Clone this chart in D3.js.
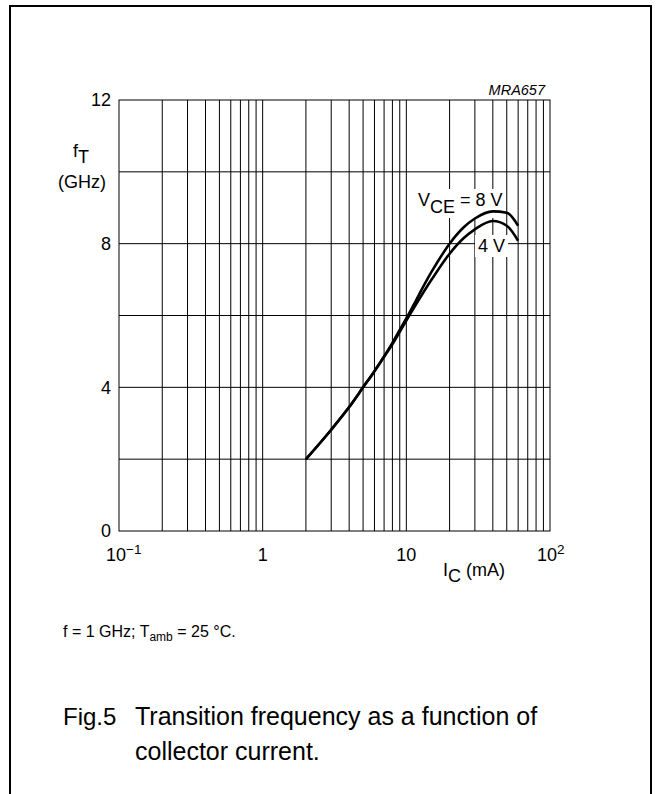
<!DOCTYPE html>
<html>
<head>
<meta charset="utf-8">
<script src="https://cdn.jsdelivr.net/npm/d3@7"></script>
<style>
  body { margin: 0; background: #fff; }
  svg { display: block; font-family: "Liberation Sans", Arial, sans-serif; }
</style>
</head>
<body>
<div id="chart"></div>
<script>
// fT versus IC chart (Fig.5)
// ---------------------------------------------------------------

// data
var currentMA = [2, 3, 4, 5, 6, 7, 8, 10, 15, 20, 25, 30, 40, 50, 60];
var ft8V = [2.0, 2.82, 3.45, 4.0, 4.45, 4.86, 5.24, 5.92, 7.22, 8.0, 8.45, 8.7, 8.9, 8.86, 8.5];
var ft4V = [2.0, 2.82, 3.45, 4.0, 4.45, 4.85, 5.2, 5.86, 7.0, 7.72, 8.15, 8.4, 8.63, 8.5, 8.08];

// axis ticks
var yTicks = [0, 4, 8, 12];
var yGrid = [2, 4, 6, 8, 10];
var xTicks = [0.1, 1, 10, 100];
var xTickBase = ["10", "1", "10", "10"];
var xTickSup = ["\u22121", "", "", "2"];

// svg container dimensions
var width = 656;
var height = 794;

// plot area
var plot = { left: 119, right: 550, top: 100, bottom: 531 };

var svg = d3.select("#chart")
  .append("svg")
  .attr("width", width)
  .attr("height", height);

// outer frame (open at the bottom)
svg.append("rect")
  .attr("x", 10)
  .attr("y", 6)
  .attr("width", 641)
  .attr("height", 820)
  .attr("fill", "none")
  .attr("stroke", "#000")
  .attr("stroke-width", 2);

// scales
var xScale = d3.scaleLog()
  .domain([0.1, 100])
  .range([plot.left, plot.right]);

var yScale = d3.scaleLinear()
  .domain([0, 12])
  .range([plot.bottom, plot.top]);

// grid lines: every 1..9 per decade on x, every 2 GHz on y
var xGrid = [];
[0.1, 1, 10].forEach(function(dec) {
  for (var k = 2; k <= 9; k++) xGrid.push(k * dec);
});
xGrid.push(1, 10);

var gridGroup = svg.append("g")
  .attr("stroke", "#000")
  .attr("stroke-width", 1);

gridGroup.selectAll(".vgrid")
  .data(xGrid)
  .enter()
  .append("line")
  .attr("x1", d => xScale(d))
  .attr("x2", d => xScale(d))
  .attr("y1", plot.top)
  .attr("y2", plot.bottom);

gridGroup.selectAll(".hgrid")
  .data(yGrid)
  .enter()
  .append("line")
  .attr("x1", plot.left)
  .attr("x2", plot.right)
  .attr("y1", d => yScale(d))
  .attr("y2", d => yScale(d));

// plot frame
svg.append("rect")
  .attr("x", plot.left)
  .attr("y", plot.top)
  .attr("width", plot.right - plot.left)
  .attr("height", plot.bottom - plot.top)
  .attr("fill", "none")
  .attr("stroke", "#000")
  .attr("stroke-width", 1);

// y axis labels
var leftAxis = d3.axisLeft(yScale)
  .tickValues(yTicks)
  .tickSize(0)
  .tickPadding(8);

var yAxis = svg.append("g")
  .attr("transform", `translate(${plot.left}, 0)`)
  .call(leftAxis);
yAxis.select(".domain").remove();
yAxis.selectAll("text")
  .attr("font-size", 18)
  .attr("font-family", "Liberation Sans, Arial, sans-serif")
  .attr("fill", "#000");

// x axis labels with superscript exponents
var xAxis = svg.append("g");
xAxis.selectAll("text")
  .data(xTicks)
  .enter()
  .append("text")
  .attr("x", d => xScale(d))
  .attr("y", 561)
  .attr("text-anchor", "middle")
  .attr("font-size", 18)
  .each(function(d, i) {
    var t = d3.select(this);
    t.append("tspan").text(xTickBase[i]);
    if (xTickSup[i]) {
      t.append("tspan")
        .attr("dy", -7)
        .attr("font-size", 13.5)
        .text(xTickSup[i]);
    }
  });
// keep the base "10" centred on the tick
xAxis.selectAll("text").each(function(d, i) {
  if (!xTickSup[i]) return;
  var base = this.firstChild.getComputedTextLength();
  var full = this.getComputedTextLength();
  d3.select(this).attr("x", xScale(d) - 3 + (full - base) / 2);
});

// axis titles
var yTitle = svg.append("text")
  .attr("x", 73)
  .attr("y", 157)
  .attr("font-size", 18);
yTitle.append("tspan").text("f");
yTitle.append("tspan").attr("dy", 6).text("T");

svg.append("text")
  .attr("x", 82)
  .attr("y", 188)
  .attr("text-anchor", "middle")
  .attr("font-size", 18)
  .text("(GHz)");

var xTitle = svg.append("text")
  .attr("x", 443)
  .attr("y", 576)
  .attr("font-size", 18);
xTitle.append("tspan").text("I");
xTitle.append("tspan").attr("dy", 6).text("C");
xTitle.append("tspan").attr("dy", -6).text(" (mA)");

svg.append("text")
  .attr("x", 545)
  .attr("y", 95)
  .attr("text-anchor", "end")
  .attr("font-size", 14.5)
  .attr("font-style", "italic")
  .text("MRA657");

// curve labels with white backing to break the grid
function curveLabel(x, y, parts) {
  var g = svg.append("g");
  var bg = g.append("rect").attr("fill", "#fff");
  var t = g.append("text")
    .attr("x", x)
    .attr("y", y)
    .attr("font-size", 18);
  parts.forEach(function(p) {
    t.append("tspan").attr("dy", p.dy || 0).text(p.s);
  });
  var bb = t.node().getBBox();
  bg.attr("x", bb.x - 3)
    .attr("y", bb.y - 1)
    .attr("width", bb.width + 6)
    .attr("height", bb.height + 2);
}

curveLabel(418, 206, [{ s: "V" }, { s: "CE", dy: 7 }, { s: " = 8 V", dy: -7 }]);
curveLabel(478, 252, [{ s: "4 V" }]);

// curves
var line = d3.line()
  .x(d => xScale(d[0]))
  .y(d => yScale(d[1]))
  .curve(d3.curveMonotoneX);

[ft8V, ft4V].forEach(function(series) {
  svg.append("path")
    .datum(currentMA.map((c, i) => [c, series[i]]))
    .attr("d", line)
    .attr("fill", "none")
    .attr("stroke", "#000")
    .attr("stroke-width", 2.6);
});

// footnote
var note = svg.append("text")
  .attr("x", 63)
  .attr("y", 637)
  .attr("font-size", 16);
note.append("tspan").text("f = 1 GHz; T");
note.append("tspan").attr("dy", 4).attr("font-size", 12).text("amb");
note.append("tspan").attr("dy", -4).text(" = 25 \u00B0C.");

// caption
svg.append("text")
  .attr("x", 63)
  .attr("y", 725)
  .attr("font-size", 24)
  .text("Fig.5");
svg.append("text")
  .attr("x", 135)
  .attr("y", 725)
  .attr("font-size", 25)
  .text("Transition frequency as a function of");
svg.append("text")
  .attr("x", 135)
  .attr("y", 760)
  .attr("font-size", 25)
  .text("collector current.");
</script>
</body>
</html>
